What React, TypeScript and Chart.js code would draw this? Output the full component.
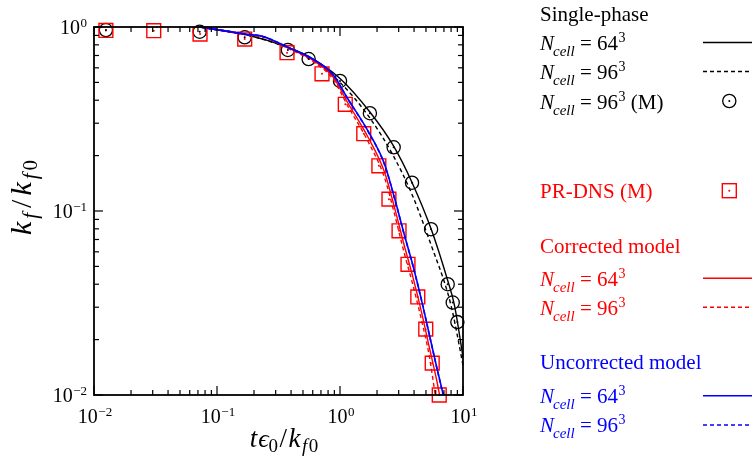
import React, { useEffect, useRef } from "react";
import { Chart, registerables } from "chart.js";

Chart.register(...registerables);

const SERIF = '"Liberation Serif", "Times New Roman", Times, serif';

// ---- data (x = t*eps0/kf0, y = kf/kf0) ----
// Single-phase N_cell = 96^3 (M) markers
const singleMT = [0.0125, 0.0723, 0.168, 0.377, 0.556, 1.0, 1.75, 2.73, 3.85, 5.5, 7.51, 8.25, 9.0];
const singleMK = [0.963, 0.943, 0.879, 0.75, 0.67, 0.509, 0.34, 0.222, 0.1425, 0.0796, 0.04, 0.0318, 0.0249];

// PR-DNS (M) markers
const dnsT = [0.0125, 0.0306, 0.0728, 0.168, 0.371, 0.714, 1.104, 1.56, 2.07, 2.5, 3.02, 3.57, 4.29, 4.98, 5.62, 6.41];
const dnsK = [0.958, 0.955, 0.916, 0.86, 0.725, 0.557, 0.38, 0.263, 0.176, 0.116, 0.078, 0.0513, 0.0341, 0.0228, 0.0149, 0.01];

// Single-phase N_cell = 64^3
const single64T = [0.073, 0.17, 0.37, 0.56, 1.0, 1.75, 2.73, 3.85, 5.5, 7.5, 8.5, 10];
const single64K = [1.0, 0.91, 0.78, 0.69, 0.525, 0.345, 0.225, 0.143, 0.08, 0.042, 0.031, 0.0161];

// Single-phase N_cell = 96^3
const single96T = [0.073, 0.17, 0.37, 0.56, 1.0, 1.75, 2.73, 3.85, 5.5, 7.5, 8.25, 9.0, 10];
const single96K = [1.0, 0.91, 0.775, 0.685, 0.5, 0.32, 0.198, 0.123, 0.0655, 0.036, 0.028, 0.021, 0.0145];

// Corrected model
const corr64T = [0.0725, 0.17, 0.24, 0.37, 0.6, 0.88, 1.15, 1.7, 2.3, 2.8, 3.31, 3.94, 4.6, 5.3, 6.1, 6.45];
const corr64K = [1.0, 0.912, 0.884, 0.775, 0.66, 0.535, 0.39, 0.25, 0.163, 0.102, 0.066, 0.043, 0.0282, 0.0184, 0.0121, 0.01];
const corr96T = [0.0725, 0.17, 0.24, 0.37, 0.6, 0.88, 1.15, 1.7, 2.3, 2.8, 3.31, 3.94, 4.6, 5.3, 5.95];
const corr96K = [1.0, 0.91, 0.88, 0.77, 0.65, 0.52, 0.375, 0.237, 0.152, 0.094, 0.06, 0.039, 0.0255, 0.0165, 0.01];

// Uncorrected model
const unc64T = [0.0725, 0.17, 0.24, 0.37, 0.6, 0.88, 1.15, 1.7, 2.3, 2.8, 3.31, 3.94, 4.6, 5.3, 6.1, 6.92];
const unc64K = [1.0, 0.915, 0.886, 0.78, 0.67, 0.55, 0.41, 0.27, 0.18, 0.115, 0.0757, 0.0498, 0.0328, 0.0216, 0.01425, 0.01];
const unc96T = [0.0725, 0.17, 0.24, 0.37, 0.6, 0.88, 1.15, 1.7, 2.3, 2.8, 3.31, 3.94, 4.6, 5.3, 6.1, 6.9];
const unc96K = [1.0, 0.915, 0.886, 0.78, 0.669, 0.549, 0.409, 0.269, 0.179, 0.1145, 0.0754, 0.0496, 0.0327, 0.0215, 0.0142, 0.01];

// ---- axes ----
const xMajorTicks = [0.01, 0.1, 1, 10];
const yMajorTicks = [0.01, 0.1, 1];
const minorMultipliers = [2, 3, 4, 5, 6, 7, 8, 9];

type Part = { t: string; size: number; italic?: boolean; dy?: number; gap?: number };

function fontOf(p: Part) {
  return `${p.italic ? "italic " : ""}${p.size}px ${SERIF}`;
}

function drawParts(
  ctx: CanvasRenderingContext2D,
  parts: Part[],
  x: number,
  y: number,
  align: "left" | "center" | "right"
) {
  const widths = parts.map((p) => {
    ctx.font = fontOf(p);
    return ctx.measureText(p.t).width;
  });
  let total = 0;
  parts.forEach((p, i) => (total += widths[i] + (p.gap || 0)));
  let cx = align === "left" ? x : align === "center" ? x - total / 2 : x - total;
  ctx.textAlign = "left";
  ctx.textBaseline = "alphabetic";
  parts.forEach((p, i) => {
    cx += p.gap || 0;
    ctx.font = fontOf(p);
    ctx.fillText(p.t, cx, y + (p.dy || 0));
    cx += widths[i];
  });
}

function powLabel(v: number): Part[] {
  const e = Math.round(Math.log10(v));
  return [
    { t: "10", size: 20 },
    { t: e < 0 ? "\u2212" + String(-e) : String(e), size: 13, dy: -7, gap: 0.5 },
  ];
}

function ncell(n: string, suffix?: string): Part[] {
  const p: Part[] = [
    { t: "N", size: 21, italic: true },
    { t: "cell", size: 15, italic: true, dy: 6, gap: -1 },
    { t: " = " + n, size: 21, gap: 0 },
    { t: "3", size: 14, dy: -8, gap: 0.5 },
  ];
  if (suffix) p.push({ t: suffix, size: 21 });
  return p;
}

const decorPlugin = {
  id: "decor",
  afterDatasetsDraw(chart: any) {
    const ctx: CanvasRenderingContext2D = chart.ctx;
    chart.data.datasets.forEach((ds: any, i: number) => {
      if (!ds.centerDot) return;
      const meta = chart.getDatasetMeta(i);
      ctx.save();
      ctx.fillStyle = ds.borderColor;
      meta.data.forEach((el: any) => {
        ctx.beginPath();
        ctx.arc(el.x, el.y, 1, 0, Math.PI * 2);
        ctx.fill();
      });
      ctx.restore();
    });
  },
  afterDraw(chart: any) {
    const ctx: CanvasRenderingContext2D = chart.ctx;
    const a = chart.chartArea;
    const xs = chart.scales.x;
    const ys = chart.scales.y;
    ctx.save();
    // frame
    ctx.strokeStyle = "#000";
    ctx.lineWidth = 1.8;
    ctx.strokeRect(a.left, a.top, a.right - a.left, a.bottom - a.top);
    ctx.lineWidth = 1.2;
    const seg = (x1: number, y1: number, x2: number, y2: number) => {
      ctx.beginPath();
      ctx.moveTo(x1, y1);
      ctx.lineTo(x2, y2);
      ctx.stroke();
    };
    const xTick = (v: number, len: number) => {
      const px = xs.getPixelForValue(v);
      seg(px, a.bottom, px, a.bottom - len);
      seg(px, a.top, px, a.top + len);
    };
    const yTick = (v: number, len: number) => {
      const py = ys.getPixelForValue(v);
      seg(a.left, py, a.left + len, py);
      seg(a.right, py, a.right - len, py);
    };
    xMajorTicks.forEach((v, i) => {
      xTick(v, 9);
      if (i < xMajorTicks.length - 1) minorMultipliers.forEach((m) => xTick(v * m, 5));
    });
    yMajorTicks.forEach((v, i) => {
      yTick(v, 9);
      if (i < yMajorTicks.length - 1) minorMultipliers.forEach((m) => yTick(v * m, 5));
    });
    // tick labels
    ctx.fillStyle = "#000";
    xMajorTicks.forEach((v) => {
      drawParts(ctx, powLabel(v), xs.getPixelForValue(v) + 1, 423, "center");
    });
    yMajorTicks.forEach((v) => {
      drawParts(ctx, powLabel(v), a.left - 7, ys.getPixelForValue(v) + 6.5, "right");
    });
    // axis titles
    drawParts(
      ctx,
      [
        { t: "t", size: 27, italic: true },
        { t: "\u03f5", size: 26, italic: true, gap: 1 },
        { t: "0", size: 19, dy: 5 },
        { t: "/", size: 27, gap: 1.5 },
        { t: "k", size: 27, italic: true, gap: 1.5 },
        { t: "f", size: 19, italic: true, dy: 5, gap: 1.5 },
        { t: "0", size: 19, dy: 5, gap: 1.5 },
      ],
      284,
      447,
      "center"
    );
    ctx.save();
    ctx.translate(31, 197.5);
    ctx.rotate(-Math.PI / 2);
    drawParts(
      ctx,
      [
        { t: "k", size: 30, italic: true },
        { t: "f", size: 21, italic: true, dy: 6, gap: 3 },
        { t: "/", size: 30, gap: 5 },
        { t: "k", size: 30, italic: true, gap: 4 },
        { t: "f", size: 21, italic: true, dy: 6, gap: 3 },
        { t: "0", size: 21, dy: 6, gap: 3 },
      ],
      0,
      0,
      "center"
    );
    ctx.restore();

    // legend
    const lx = 540;
    const symL = 703;
    const symR = 752;
    const symC = 729.3;
    const legendLine = (y: number, color: string, dash: number[], w: number) => {
      ctx.save();
      ctx.strokeStyle = color;
      ctx.lineWidth = w;
      ctx.setLineDash(dash);
      seg(symL, y, symR, y);
      ctx.restore();
    };
    ctx.fillStyle = "#000";
    drawParts(ctx, [{ t: "Single-phase", size: 21 }], lx, 20.5, "left");
    drawParts(ctx, ncell("64"), lx, 50, "left");
    legendLine(42.5, "#000", [], 1.4);
    drawParts(ctx, ncell("96"), lx, 79, "left");
    legendLine(71.5, "#000", [4, 3], 1.4);
    drawParts(ctx, ncell("96", " (M)"), lx, 108.5, "left");
    ctx.save();
    ctx.strokeStyle = "#000";
    ctx.lineWidth = 1.3;
    ctx.beginPath();
    ctx.arc(symC, 101, 6.6, 0, Math.PI * 2);
    ctx.stroke();
    ctx.fillStyle = "#000";
    ctx.beginPath();
    ctx.arc(symC, 101, 1, 0, Math.PI * 2);
    ctx.fill();
    ctx.restore();

    ctx.fillStyle = "#ff0000";
    drawParts(ctx, [{ t: "PR-DNS (M)", size: 21 }], lx, 198, "left");
    ctx.save();
    ctx.strokeStyle = "#ff0000";
    ctx.lineWidth = 1.4;
    ctx.strokeRect(symC - 7, 190.7 - 7, 14, 14);
    ctx.fillStyle = "#ff0000";
    ctx.beginPath();
    ctx.arc(symC, 190.7, 1, 0, Math.PI * 2);
    ctx.fill();
    ctx.restore();

    ctx.fillStyle = "#ff0000";
    drawParts(ctx, [{ t: "Corrected model", size: 21 }], lx, 253, "left");
    drawParts(ctx, ncell("64"), lx, 285.5, "left");
    legendLine(278.3, "#ff0000", [], 1.4);
    drawParts(ctx, ncell("96"), lx, 314.5, "left");
    legendLine(307.3, "#ff0000", [4, 3], 1.4);

    ctx.fillStyle = "#0000ff";
    drawParts(ctx, [{ t: "Uncorrected model", size: 21 }], lx, 368.5, "left");
    drawParts(ctx, ncell("64"), lx, 403, "left");
    legendLine(395.7, "#0000ff", [], 1.6);
    drawParts(ctx, ncell("96"), lx, 432, "left");
    legendLine(425, "#0000ff", [4, 3], 1.6);

    ctx.restore();
  },
};

function pts(xs: number[], ys: number[]) {
  return xs.map((x, i) => ({ x, y: ys[i] }));
}

function lineDs(xs: number[], ys: number[], color: string, dash: number[], width: number) {
  return {
    data: pts(xs, ys),
    showLine: true,
    borderColor: color,
    backgroundColor: color,
    borderWidth: width,
    borderDash: dash,
    pointRadius: 0,
    pointHoverRadius: 0,
    cubicInterpolationMode: "monotone",
    clip: false,
  };
}

export default function App() {
  const ref = useRef<HTMLCanvasElement | null>(null);
  useEffect(() => {
    if (!ref.current) return;
    const chart = new Chart(ref.current, {
      type: "scatter",
      data: {
        datasets: [
          lineDs(unc96T, unc96K, "#0000ff", [4, 3], 1.6),
          lineDs(unc64T, unc64K, "#0000ff", [], 1.6),
          lineDs(corr96T, corr96K, "#ff0000", [4, 3], 1.4),
          lineDs(corr64T, corr64K, "#ff0000", [], 1.4),
          {
            data: pts(dnsT, dnsK),
            showLine: false,
            pointStyle: "rect",
            pointRadius: 9.8,
            pointBorderWidth: 1.4,
            borderColor: "#ff0000",
            backgroundColor: "rgba(0,0,0,0)",
            pointBackgroundColor: "rgba(0,0,0,0)",
            clip: false,
            centerDot: true,
          } as any,
          lineDs(single96T, single96K, "#000000", [4, 3], 1.4),
          lineDs(single64T, single64K, "#000000", [], 1.4),
          {
            data: pts(singleMT, singleMK),
            showLine: false,
            pointStyle: "circle",
            pointRadius: 6.6,
            pointBorderWidth: 1.3,
            borderColor: "#000000",
            backgroundColor: "rgba(0,0,0,0)",
            pointBackgroundColor: "rgba(0,0,0,0)",
            clip: false,
            centerDot: true,
          } as any,
        ] as any,
      },
      options: {
        responsive: false,
        animation: false,
        events: [],
        layout: { padding: { left: 94, top: 27, right: 289, bottom: 71 } },
        plugins: { legend: { display: false }, tooltip: { enabled: false } },
        scales: {
          x: { type: "logarithmic", min: 0.01, max: 10, display: false },
          y: { type: "logarithmic", min: 0.01, max: 1, display: false },
        },
      } as any,
      plugins: [decorPlugin],
    });
    return () => chart.destroy();
  }, []);
  return (
    <div style={{ position: "absolute", left: 0, top: 0, width: 752, height: 466, background: "#fff" }}>
      <canvas ref={ref} width={752} height={466} style={{ display: "block" }} />
    </div>
  );
}
